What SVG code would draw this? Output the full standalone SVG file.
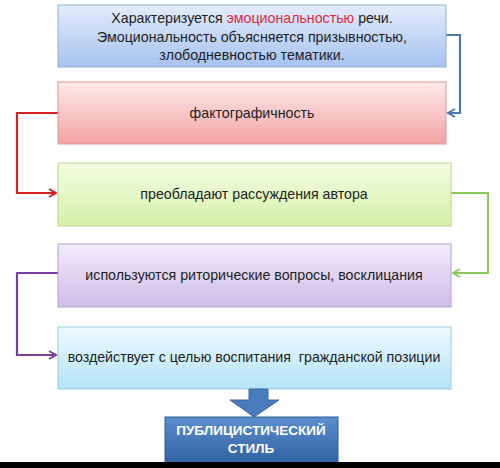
<svg xmlns="http://www.w3.org/2000/svg" width="500" height="468" viewBox="0 0 500 468">
<defs>
<style>
.box{stroke-width:1}
.t{font-family:"Liberation Sans","Noto Sans",sans-serif;font-size:14.2px;fill:#1e1e1e;text-anchor:middle}
.w{font-family:"Liberation Sans","Noto Sans",sans-serif;font-size:13.5px;font-weight:bold;fill:#ffffff;text-anchor:middle}
.c{fill:none;stroke-width:2.2}
</style>
<linearGradient id="g1" x1="0" y1="0" x2="0" y2="1"><stop offset="0" stop-color="#e3ecfb"/><stop offset="1" stop-color="#a6c2f0"/></linearGradient>
<linearGradient id="g2" x1="0" y1="0" x2="0" y2="1"><stop offset="0" stop-color="#fdeaea"/><stop offset="1" stop-color="#f3a3a3"/></linearGradient>
<linearGradient id="g3" x1="0" y1="0" x2="0" y2="1"><stop offset="0" stop-color="#f4fde4"/><stop offset="1" stop-color="#d5f0a6"/></linearGradient>
<linearGradient id="g4" x1="0" y1="0" x2="0" y2="1"><stop offset="0" stop-color="#f2ecf9"/><stop offset="1" stop-color="#cfbbe9"/></linearGradient>
<linearGradient id="g5" x1="0" y1="0" x2="0" y2="1"><stop offset="0" stop-color="#eefaff"/><stop offset="1" stop-color="#b4e3f7"/></linearGradient>
<linearGradient id="g6" x1="0" y1="0" x2="0" y2="1"><stop offset="0" stop-color="#5b8fce"/><stop offset="1" stop-color="#2f5f9e"/></linearGradient>
<marker id="mb" markerWidth="10" markerHeight="10" refX="8" refY="5" orient="auto" markerUnits="userSpaceOnUse"><path d="M1,1 L8,5 L1,9" fill="none" stroke="#4a7ab8" stroke-width="2"/></marker>
<marker id="mr" markerWidth="10" markerHeight="10" refX="8" refY="5" orient="auto" markerUnits="userSpaceOnUse"><path d="M1,1 L8,5 L1,9" fill="none" stroke="#d42020" stroke-width="2"/></marker>
<marker id="mg" markerWidth="10" markerHeight="10" refX="8" refY="5" orient="auto" markerUnits="userSpaceOnUse"><path d="M1,1 L8,5 L1,9" fill="none" stroke="#8cc859" stroke-width="2"/></marker>
<marker id="mp" markerWidth="10" markerHeight="10" refX="8" refY="5" orient="auto" markerUnits="userSpaceOnUse"><path d="M1,1 L8,5 L1,9" fill="none" stroke="#7a3ea0" stroke-width="2"/></marker>
</defs>
<rect width="500" height="468" fill="#ffffff"/>
<g id="connectors">
<path class="c" stroke="#4a7ab8" d="M446,35 H460 V113 H448" marker-end="url(#mb)"/>
<path class="c" stroke="#d42020" d="M58,113 H17 V193 H56" marker-end="url(#mr)"/>
<path class="c" stroke="#8cc859" d="M451,193 H488 V273 H453" marker-end="url(#mg)"/>
<path class="c" stroke="#7a3ea0" d="M58,273 H17 V355 H56" marker-end="url(#mp)"/>
</g>
<g id="n1">
<rect x="58" y="5" width="388" height="62" fill="url(#g1)" stroke="#95aed6"/>
<text class="t" x="252" y="23">Характеризуется <tspan fill="#e02a3c">эмоциональностью</tspan> речи.</text>
<text class="t" x="252" y="42">Эмоциональность объясняется призывностью,</text>
<text class="t" x="252" y="60">злободневностью тематики.</text>
</g>
<g id="n2">
<rect x="58" y="82" width="388" height="62" fill="url(#g2)" stroke="#d99a9a"/>
<text class="t" x="252" y="118">фактографичность</text>
</g>
<g id="n3">
<rect x="58" y="163" width="393" height="63" fill="url(#g3)" stroke="#b8d48e"/>
<text class="t" x="254" y="199">преобладают рассуждения автора</text>
</g>
<g id="n4">
<rect x="58" y="244" width="393" height="63" fill="url(#g4)" stroke="#b3a1cc"/>
<text class="t" x="254" y="280">используются риторические вопросы, восклицания</text>
</g>
<g id="n5">
<rect x="58" y="327" width="393" height="62" fill="url(#g5)" stroke="#9ccbe0"/>
<text class="t" x="254" y="362" xml:space="preserve">воздействует с целью воспитания  гражданской позиции</text>
</g>
<g id="arrow">
<path d="M249,389 H268 V400 H279 L254,417 L230,400 H249 Z" fill="#4a7bbd" stroke="#3a679f" stroke-width="1"/>
</g>
<g id="n6">
<rect x="165" y="417" width="173" height="48" fill="url(#g6)" stroke="#2f5a92"/>
<text class="w" x="251" y="435">ПУБЛИЦИСТИЧЕСКИЙ</text>
<text class="w" x="251" y="453">СТИЛЬ</text>
</g>
<rect x="0" y="462" width="500" height="6" fill="#000000"/>
</svg>
